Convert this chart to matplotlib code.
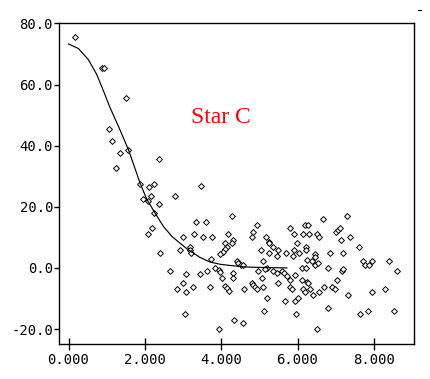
import matplotlib
matplotlib.use("Agg")
import matplotlib.pyplot as plt
from matplotlib.lines import Line2D
from matplotlib.ticker import FormatStrFormatter

obs_x = [0.18, 0.87, 0.94, 1.50, 1.07, 1.14, 1.35, 1.57, 1.25, 2.38,
         1.86, 2.12, 2.23, 3.47, 1.94, 2.07, 2.15, 2.78, 2.36, 2.24,
         2.18, 2.07, 2.40, 3.33, 3.60, 3.01, 3.30, 3.52, 3.77, 4.18,
         2.91, 3.17, 3.19, 3.20, 3.74, 2.66, 3.07, 3.45, 3.64, 2.99,
         3.27, 3.71, 2.85, 3.07, 3.04, 3.95, 3.84, 3.93, 3.98, 4.03,
         4.10, 4.15, 4.20, 4.30, 4.30, 4.41, 4.45, 4.51, 4.57, 4.61,
         4.34, 4.58, 4.28, 4.93, 4.84, 4.81, 4.30, 4.28, 4.09, 4.15,
         4.10, 4.04, 3.98, 5.18, 5.24, 5.26, 5.04, 5.24, 5.37, 5.50,
         5.47, 5.70, 5.79, 5.91, 5.98, 5.91, 6.05, 5.88, 6.20, 6.28,
         6.15, 6.31, 6.22, 6.22, 6.52, 6.57, 6.46, 6.46, 6.68, 7.29,
         7.02, 7.07, 7.11, 7.13, 7.37, 7.62, 6.85, 7.20, 5.10, 4.97,
         5.06, 5.19, 5.15, 4.80, 4.84, 4.89, 4.93, 5.10, 5.19, 5.37,
         5.47, 5.59, 5.65, 5.72, 5.50, 5.80, 5.80, 5.85, 5.67, 5.93,
         6.02, 5.96, 6.11, 6.22, 6.11, 6.24, 6.28, 6.14, 6.20, 6.33,
         6.40, 6.55, 5.94, 5.12, 6.50, 6.26, 6.37, 6.46, 6.54, 6.81,
         7.16, 7.20, 7.72, 7.77, 7.88, 7.94, 8.40, 8.61, 7.04, 6.69,
         6.89, 6.98, 7.33, 7.94, 8.30, 6.81, 7.64, 7.85, 8.53]
obs_y = [75.5, 65.5, 65.5, 55.6, 45.6, 41.6, 37.6, 38.7, 32.7, 35.7,
         27.5, 26.5, 27.4, 26.7, 22.7, 22.0, 23.6, 23.6, 21.0, 18.0,
         13.0, 11.2, 4.8, 15.0, 15.0, 10.1, 11.1, 10.1, 10.1, 11.1,
         5.9, 7.0, 5.9, 5.0, 3.0, -1.0, -2.1, -2.1, -1.0, -5.0,
         -6.1, -6.1, -7.0, -8.0, -15.2, -20.0, 0.1, -0.7, -1.5, -3.2,
         -5.8, -6.7, -7.6, -1.7, -3.2, 2.1, 1.5, 1.0, 0.8, -6.9,
         -17.0, -18.1, 17.0, 14.1, 11.9, 10.2, 9.0, 8.1, 8.2, 7.0,
         6.2, 5.2, 4.7, 10.1, 8.6, 8.1, 5.7, 4.8, 6.8, 5.7,
         3.9, 5.0, 13.0, 11.1, 8.3, 5.7, 5.0, 3.9, 14.1, 14.1,
         11.1, 11.1, 6.8, 5.9, 11.1, 10.1, 4.6, 3.5, 16.0, 17.0,
         11.9, 12.5, 13.0, 9.0, 10.1, 6.8, 4.8, 4.8, 2.1, -1.0,
         -3.2, -0.1, -0.3, -5.0, -5.6, -6.1, -6.9, -6.1, -9.7, -1.0,
         -1.7, -1.0, -1.7, -2.5, -5.0, -3.9, -6.1, -6.9, -10.8, -10.8,
         -9.9, -15.2, -0.1, -0.1, -3.9, -4.5, -5.0, -7.0, -7.8, -6.8,
         -8.9, -8.0, -2.3, -14.1, -20.0, 2.6, 2.1, 1.0, 1.5, -0.1,
         -1.0, -0.3, 2.1, 1.0, 1.0, 2.1, 2.1, -1.0, -3.9, -6.1,
         -6.1, -6.9, -8.9, -8.0, -7.0, -13.2, -15.2, -14.1, -14.1]

# fitted curve
fit_x = [0.0, 0.26, 0.52, 0.74, 0.92, 1.09, 1.31, 1.57, 1.88, 2.05, 2.27,
         2.49, 2.71, 2.92, 3.14, 3.45, 3.71, 3.97, 4.23, 4.63, 5.20, 5.72]
fit_y = [73.3, 71.8, 68.2, 63.3, 57.8, 52.4, 46.3, 38.7, 27.6, 22.5, 17.9,
         13.5, 10.3, 8.1, 5.9, 3.4, 1.9, 1.2, 0.8, 0.3, 0.1, 0.0]

x_ticks = [0, 2, 4, 6, 8]
y_ticks = [-20, 0, 20, 40, 60, 80]

fig = plt.figure(figsize=(4.30, 3.79), dpi=100)
ax = fig.add_axes([0.138, 0.0916, 0.8256, 0.8464])

# scatter of observations: small open diamonds
ax.plot(obs_x, obs_y, linestyle='none', marker='D', markersize=3.0,
        markerfacecolor='white', markeredgecolor='black', markeredgewidth=0.7)

# fitted curve
ax.plot(fit_x, fit_y, color='black', linewidth=0.85)

ax.text(4.0, 49.3, 'Star C', color='#ff0000', fontsize=17,
        family='Liberation Serif', ha='center', va='center')

ax.set_xlim(-0.24, 9.06)
ax.set_ylim(-25, 80)
ax.set_xticks(x_ticks)
ax.set_yticks(y_ticks)
ax.xaxis.set_major_formatter(FormatStrFormatter('%.3f'))
ax.yaxis.set_major_formatter(FormatStrFormatter('%.1f'))

for lbl in ax.get_xticklabels() + ax.get_yticklabels():
    lbl.set_family('DejaVu Sans Mono')
    lbl.set_fontsize(10)

ax.tick_params(axis='x', direction='inout', length=8, width=1.0, pad=2)
ax.tick_params(axis='y', direction='out', length=3.5, width=1.0, pad=1)

for sp in ax.spines.values():
    sp.set_linewidth(1.0)
    sp.set_color('black')

# small stray dash in the top-right corner of the original
fig.add_artist(Line2D([418 / 430, 421 / 430], [1 - 10 / 379, 1 - 10 / 379],
                      color='black', linewidth=0.8))

fig.savefig('out.png', dpi=100)
